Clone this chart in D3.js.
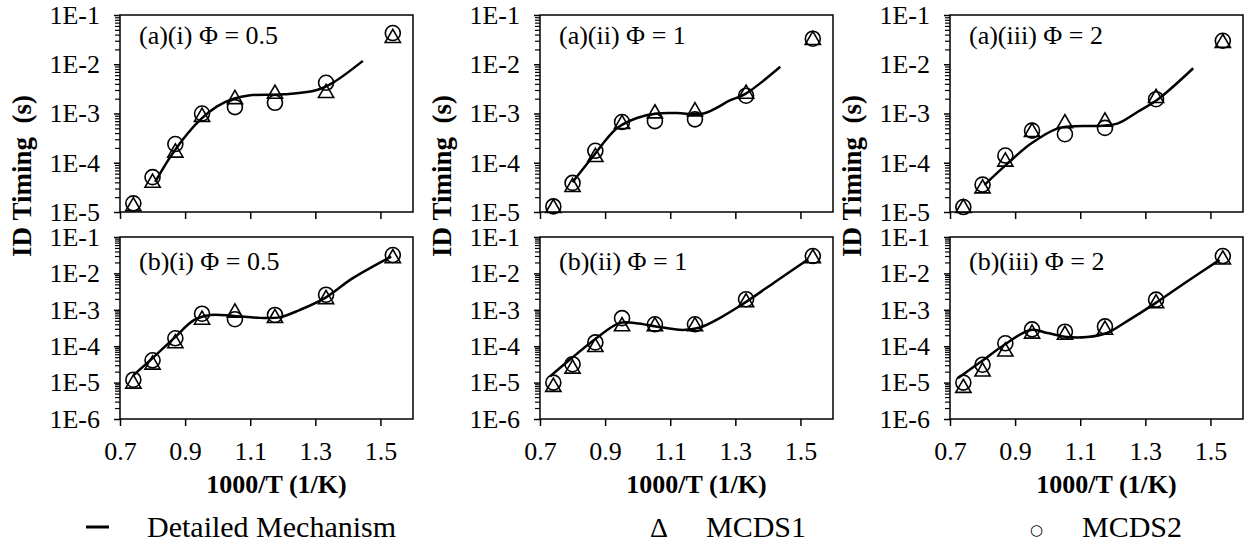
<!DOCTYPE html>
<html>
<head>
<meta charset="utf-8">
<script src="https://d3js.org/d3.v7.min.js"></script>
<style>
  body { margin: 0; background: #fff; }
  svg { display: block; }
</style>
</head>
<body>
<svg id="chart"></svg>
<script>
var width = 1247;
var height = 547;

// inverse temperatures of the simulated cases
var invTemps = [0.741, 0.800, 0.870, 0.952, 1.053, 1.176, 1.333, 1.538];
var xTicks = [0.7, 0.9, 1.1, 1.3, 1.5];
var topDecades = [1e-1, 1e-2, 1e-3, 1e-4, 1e-5];
var bottomDecades = [1e-1, 1e-2, 1e-3, 1e-4, 1e-5, 1e-6];
var panelLabels = ['(a)(i) \u03A6 = 0.5', '(a)(ii) \u03A6 = 1', '(a)(iii) \u03A6 = 2',
                   '(b)(i) \u03A6 = 0.5', '(b)(ii) \u03A6 = 1', '(b)(iii) \u03A6 = 2'];

// detailed mechanism curves, [1000/T, ignition delay (s)]
var detailedA1 = [[0.808, 4.1e-5], [0.869, 1.82e-4], [0.946, 7.4e-4], [0.997, 1.38e-3], [1.049, 2.0e-3],
                  [1.10, 2.35e-3], [1.203, 2.45e-3], [1.305, 3.0e-3], [1.356, 4.3e-3], [1.446, 1.17e-2]];
var detailedA2 = [[0.800, 4.0e-5], [0.862, 1.32e-4], [0.936, 5.0e-4], [0.998, 8.1e-4], [1.059, 1.0e-3],
                  [1.121, 1.02e-3], [1.202, 1.0e-3], [1.285, 1.86e-3], [1.331, 2.5e-3], [1.438, 8.9e-3]];
var detailedA3 = [[0.806, 3.55e-5], [0.878, 9.8e-5], [0.949, 2.45e-4], [1.031, 5.0e-4], [1.082, 5.5e-4],
                  [1.154, 5.6e-4], [1.216, 6.3e-4], [1.278, 1.1e-3], [1.339, 1.95e-3], [1.447, 8.3e-3]];
var detailedB1 = [[0.742, 1.62e-5], [0.800, 4.7e-5], [0.866, 1.66e-4], [0.927, 5.2e-4], [0.978, 7.2e-4],
                  [1.049, 6.8e-4], [1.131, 6.0e-4], [1.192, 6.3e-4], [1.253, 1.0e-3], [1.329, 2.1e-3],
                  [1.415, 7.4e-3], [1.533, 2.9e-2]];
var detailedB2 = [[0.731, 1.48e-5], [0.792, 4.3e-5], [0.873, 1.66e-4], [0.944, 4.3e-4], [0.995, 4.3e-4],
                  [1.056, 3.5e-4], [1.138, 2.8e-4], [1.189, 3.2e-4], [1.260, 6.5e-4], [1.326, 1.5e-3],
                  [1.423, 5.9e-3], [1.524, 2.45e-2]];
var detailedB3 = [[0.724, 1.32e-5], [0.796, 3.8e-5], [0.867, 1.1e-4], [0.948, 2.8e-4], [0.999, 2.3e-4],
                  [1.060, 1.78e-4], [1.121, 1.78e-4], [1.182, 2.3e-4], [1.243, 4.8e-4], [1.330, 1.5e-3],
                  [1.427, 5.9e-3], [1.528, 2.35e-2]];

// reduced mechanisms, one value per entry of invTemps
var mcds1A1 = [1.3e-5, 3.9e-5, 1.6e-4, 8.5e-4, 1.95e-3, 2.5e-3, 2.6e-3, 3.4e-2];
var mcds2A1 = [1.5e-5, 5.1e-5, 2.4e-4, 1.0e-3, 1.35e-3, 1.65e-3, 4.2e-3, 4.3e-2];
var mcds1A2 = [1.2e-5, 3.2e-5, 1.3e-4, 6.1e-4, 1.0e-3, 1.1e-3, 2.5e-3, 3.1e-2];
var mcds2A2 = [1.3e-5, 3.9e-5, 1.75e-4, 6.7e-4, 7.0e-4, 7.6e-4, 2.3e-3, 3.3e-2];
var mcds1A3 = [1.2e-5, 3.0e-5, 1.05e-4, 4.2e-4, 6.3e-4, 6.8e-4, 2.05e-3, 2.7e-2];
var mcds2A3 = [1.26e-5, 3.6e-5, 1.4e-4, 4.5e-4, 3.8e-4, 5.1e-4, 1.95e-3, 3.0e-2];
var mcds1B1 = [9.3e-6, 3.1e-5, 1.2e-4, 5.3e-4, 8.3e-4, 5.9e-4, 1.95e-3, 2.6e-2];
var mcds2B1 = [1.2e-5, 4.1e-5, 1.65e-4, 7.8e-4, 5.5e-4, 7.2e-4, 2.6e-3, 3.2e-2];
var mcds1B2 = [7.6e-6, 2.4e-5, 9.4e-5, 3.5e-4, 3.5e-4, 3.5e-4, 1.6e-3, 2.6e-2];
var mcds2B2 = [1.0e-5, 3.2e-5, 1.27e-4, 5.9e-4, 4.0e-4, 4.0e-4, 1.95e-3, 3.0e-2];
var mcds1B3 = [7.1e-6, 2.0e-5, 7.1e-5, 2.2e-4, 2.05e-4, 2.8e-4, 1.5e-3, 2.4e-2];
var mcds2B3 = [1.0e-5, 3.1e-5, 1.2e-4, 2.9e-4, 2.5e-4, 3.5e-4, 1.9e-3, 3.0e-2];

var detailed = [detailedA1, detailedA2, detailedA3, detailedB1, detailedB2, detailedB3];
var mcds1 = [mcds1A1, mcds1A2, mcds1A3, mcds1B1, mcds1B2, mcds1B3];
var mcds2 = [mcds2A1, mcds2A2, mcds2A3, mcds2B1, mcds2B2, mcds2B3];

var serif = '"Liberation Serif", "Times New Roman", serif';
var colLeft = [120, 540, 950];
var plotW = 293;
var rows = [
  {top: 15, h: 197, decades: topDecades, labels: false},
  {top: 237, h: 182, decades: bottomDecades, labels: true}
];

var svg = d3.select('#chart')
            .attr('width', width)
            .attr('height', height)
            .style('font-family', serif);

var x = d3.scaleLinear().domain([0.7, 1.6]).range([0, plotW]);

var line = d3.line()
             .x(function (d) { return x(d[0]); })
             .curve(d3.curveCatmullRom.alpha(0.5));

var triangle = d3.symbol().type(d3.symbolTriangle).size(100);

rows.forEach(function (row, r) {
  var lo = row.decades[row.decades.length - 1];
  var y = d3.scaleLog().domain([lo, 1e-1]).range([row.h, 0]);

  // minor ticks 2..9 inside each decade
  var minors = [];
  row.decades.slice(0, -1).forEach(function (d) {
    for (var k = 2; k <= 9; k++) minors.push(d / 10 * k);
  });

  colLeft.forEach(function (left, c) {
    var i = r * 3 + c;
    var g = svg.append('g').attr('transform', 'translate(' + left + ',' + row.top + ')');

    g.append('g')
     .call(d3.axisLeft(y).tickValues(minors).tickSize(5).tickSizeOuter(0).tickFormat(''))
     .call(function (a) { a.select('.domain').remove(); })
     .selectAll('line').attr('stroke-width', 1.2);

    g.append('g')
     .call(d3.axisLeft(y).tickValues(row.decades).tickSize(6).tickPadding(14).tickSizeOuter(0)
             .tickFormat(function (d) { return '1E' + Math.round(Math.log10(d)); }))
     .call(function (a) { a.select('.domain').remove(); })
     .attr('font-family', serif)
     .attr('font-size', 26)
     .selectAll('line').attr('stroke-width', 1.5);

    g.append('g')
     .attr('transform', 'translate(0,' + row.h + ')')
     .call(d3.axisBottom(x).tickValues(xTicks).tickSize(7).tickPadding(16).tickSizeOuter(0)
             .tickFormat(row.labels ? d3.format('.1f') : ''))
     .call(function (a) { a.select('.domain').remove(); })
     .attr('font-family', serif)
     .attr('font-size', 26)
     .selectAll('line').attr('stroke-width', 1.5);

    g.append('rect')
     .attr('width', plotW)
     .attr('height', row.h)
     .attr('fill', 'none')
     .attr('stroke', '#000')
     .attr('stroke-width', 1.5);

    g.append('text')
     .attr('x', 19)
     .attr('y', r === 0 ? 29 : 33)
     .attr('font-size', 26)
     .text(panelLabels[i]);

    g.append('path')
     .datum(detailed[i])
     .attr('d', line.y(function (d) { return y(d[1]); }))
     .attr('fill', 'none')
     .attr('stroke', '#000')
     .attr('stroke-width', 2.5);

    g.selectAll('.tri')
     .data(mcds1[i])
     .enter()
       .append('path')
       .attr('class', 'tri')
       .attr('d', triangle)
       .attr('transform', function (d, j) { return 'translate(' + x(invTemps[j]) + ',' + y(d) + ')'; })
       .attr('fill', 'none')
       .attr('stroke', '#000')
       .attr('stroke-width', 1.6);

    g.selectAll('.circ')
     .data(mcds2[i])
     .enter()
       .append('circle')
       .attr('class', 'circ')
       .attr('cx', function (d, j) { return x(invTemps[j]); })
       .attr('cy', function (d) { return y(d); })
       .attr('r', 7.5)
       .attr('fill', 'none')
       .attr('stroke', '#000')
       .attr('stroke-width', 1.6);

    if (row.labels) {
      g.append('text')
       .attr('x', plotW / 2 + 10)
       .attr('y', row.h + 74)
       .attr('text-anchor', 'middle')
       .attr('font-size', 26)
       .attr('font-weight', 'bold')
       .text('1000/T (1/K)');
    }
  });
});

// y axis titles, one per column
colLeft.forEach(function (left) {
  svg.append('text')
     .attr('transform', 'translate(' + (left - 89) + ',176) rotate(-90)')
     .attr('text-anchor', 'middle')
     .attr('font-size', 27)
     .attr('font-weight', 'bold')
     .style('white-space', 'pre')
     .text('ID Timing  (s)');
});

// legend
var legend = svg.append('g').attr('font-size', 30);
legend.append('line')
      .attr('x1', 86).attr('x2', 109)
      .attr('y1', 527).attr('y2', 527)
      .attr('stroke', '#000')
      .attr('stroke-width', 3);
legend.append('text').attr('x', 147).attr('y', 537).text('Detailed Mechanism');
legend.append('text').attr('x', 650).attr('y', 537).attr('font-size', 28).text('\u0394');
legend.append('text').attr('x', 706).attr('y', 537).text('MCDS1');
legend.append('text').attr('x', 1030).attr('y', 535)
      .attr('font-family', '"DejaVu Sans", sans-serif').attr('font-size', 15).text('\u25CB');
legend.append('text').attr('x', 1082).attr('y', 537).text('MCDS2');
</script>
</body>
</html>
